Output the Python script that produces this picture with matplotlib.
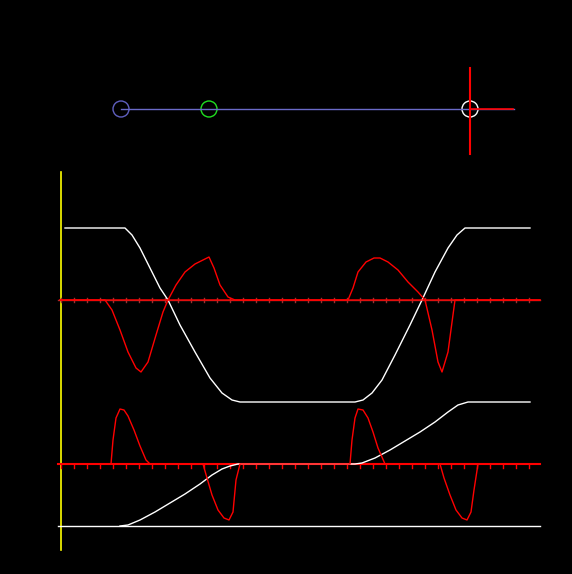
import matplotlib.pyplot as plt
import numpy as np

# curves, in pixel units (x right, y down)
top_x = [65, 125, 132, 140, 150, 160, 168, 180, 195, 210, 222, 232, 240, 355, 363, 372, 382, 395, 410, 422, 435, 448, 457, 465, 530]
top_y = [228, 228, 235, 248, 268, 288, 300, 325, 352, 378, 393, 400, 402, 402, 400, 393, 380, 355, 325, 300, 272, 248, 235, 228, 228]

vel_x = [60, 105, 112, 120, 128, 136, 141, 148, 156, 163, 168, 176, 185, 195, 203, 209, 214, 220, 228, 235, 540]
vel_y = [300, 300, 310, 330, 352, 368, 372, 362, 335, 312, 300, 285, 272, 264, 260, 257, 268, 285, 297, 300, 300]
vel2_x = [60, 348, 353, 358, 366, 374, 380, 388, 398, 408, 418, 425, 432, 438, 442, 448, 455, 540]
vel2_y = [300, 300, 288, 272, 262, 258, 258, 262, 270, 282, 292, 300, 330, 362, 372, 352, 300, 300]

ramp_x = [120, 128, 140, 155, 170, 185, 200, 212, 222, 230, 238, 355, 362, 375, 390, 405, 420, 435, 448, 458, 468, 530]
ramp_y = [526, 525, 520, 512, 503, 494, 484, 475, 469, 466, 464, 464, 463, 458, 450, 441, 432, 422, 412, 405, 402, 402]

acc_x = [60, 111, 113, 116, 120, 124, 128, 134, 140, 146, 150, 203, 207, 212, 218, 224, 229, 233, 236, 240, 350, 352, 355, 358, 363, 368, 373, 378, 385, 440, 444, 450, 456, 462, 467, 471, 474, 478, 540]
acc_y = [464, 464, 440, 418, 409, 410, 416, 430, 446, 460, 464, 464, 478, 495, 510, 518, 520, 512, 480, 464, 464, 440, 418, 409, 410, 418, 432, 448, 464, 464, 478, 495, 510, 518, 520, 512, 490, 464, 464]

dots_x = [121, 209, 470]
dot_colors = ['#6060c0', '#20e020', 'white']

fig = plt.figure(figsize=(5.72, 5.74), dpi=100, facecolor='black')
ax = fig.add_axes([0, 0, 1, 1])
ax.set_facecolor('black')
ax.set_xlim(0, 572)
ax.set_ylim(574, 0)
ax.axis('off')

# top slider
ax.plot([121, 514], [109, 109], color='#6a6ac8', lw=1)
ax.plot([470, 470], [68, 154], color='red', lw=1.5)
ax.plot([470, 513], [109, 109], color='red', lw=1.2)
for x, c in zip(dots_x, dot_colors):
    ax.add_patch(plt.Circle((x, 109), 8, fill=False, ec=c, lw=1))

# axes
ax.plot([61, 61], [172, 550], color='yellow', lw=1.2)
ax.plot([58, 540], [300, 300], color='#a03030', lw=1)
ax.plot([58, 540], [464, 464], color='red', lw=1.5)
ax.plot([58, 540], [526, 526], color='white', lw=1)
for t in np.arange(61, 541, 13):
    ax.plot([t, t], [298, 302], color='#a03030', lw=1)
    ax.plot([t, t], [464, 468], color='red', lw=1)

# curves
ax.plot(top_x, top_y, color='white', lw=1)
ax.plot(vel_x, vel_y, color='red', lw=1)
ax.plot(vel2_x, vel2_y, color='red', lw=1)
ax.plot(ramp_x, ramp_y, color='white', lw=1)
ax.plot(acc_x, acc_y, color='red', lw=1)

fig.savefig('out.png', dpi=100, facecolor='black')
